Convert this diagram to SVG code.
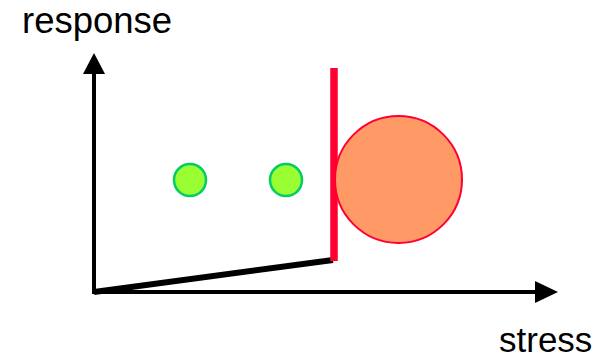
<svg xmlns="http://www.w3.org/2000/svg" width="601" height="358" viewBox="0 0 601 358">
<style>
.lbl{font-family:"Liberation Sans",Arial,sans-serif;font-size:35px;fill:#000}
.green{fill:#99FF33;stroke:#00CC66;stroke-width:2.5}
</style>
<rect width="601" height="358" fill="#fff"/>
<g id="connectors">
<line x1="94" y1="294" x2="94" y2="72" stroke="#000" stroke-width="4"/>
<polygon points="94,53 83,74 105,74" fill="#000"/>
<line x1="92" y1="292" x2="537" y2="292" stroke="#000" stroke-width="4"/>
<polygon points="558,292 535,281 535,303" fill="#000"/>
<line x1="94" y1="292" x2="333" y2="260" stroke="#000" stroke-width="6"/>
</g>
<g id="barrier">
<line x1="334" y1="68" x2="334" y2="261" stroke="#FF0033" stroke-width="7.5"/>
</g>
<g id="big-circle">
<circle cx="398.5" cy="179.5" r="63.5" fill="#FF9966" stroke="#FF0033" stroke-width="2"/>
</g>
<g id="green1"><circle cx="190" cy="180" r="16" class="green"/></g>
<g id="green2"><circle cx="286" cy="180" r="16" class="green"/></g>
<g id="label-response"><text class="lbl" x="22" y="33" style="font-size:36.5px">response</text></g>
<g id="label-stress"><text class="lbl" x="499" y="352">stress</text></g>
</svg>
